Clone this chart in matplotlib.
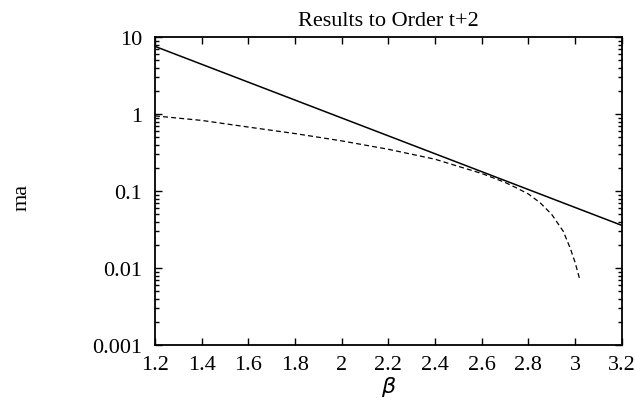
import numpy as np
import matplotlib
matplotlib.use("Agg")
import matplotlib.pyplot as plt
from matplotlib.ticker import FixedLocator, FuncFormatter, LogLocator, NullFormatter

# solid line (straight on the log scale)
beta_solid = [1.2, 3.2]
ma_solid = [7.6, 0.036]

# dashed curve
beta_dash = [1.2, 1.4, 1.6, 1.8, 2.0, 2.2, 2.4, 2.5, 2.6, 2.7, 2.75,
             2.8, 2.85, 2.9, 2.95, 2.98, 3.0, 3.02]
ma_dash = [0.95, 0.83, 0.68, 0.56, 0.45, 0.35, 0.26, 0.21, 0.17, 0.13, 0.11,
           0.092, 0.071, 0.050, 0.030, 0.018, 0.012, 0.0072]

xticks = [1.2, 1.4, 1.6, 1.8, 2.0, 2.2, 2.4, 2.6, 2.8, 3.0, 3.2]
yticks = [0.001, 0.01, 0.1, 1, 10]
ytick_labels = ["0.001", "0.01", "0.1", "1", "10"]

serif = "Liberation Serif"

fig = plt.figure(figsize=(6.35, 4.02), dpi=100)
ax = fig.add_axes([0.244, 0.139, 0.735, 0.766])

ax.plot(beta_solid, ma_solid, color="black", lw=1.1, solid_capstyle="butt")
ax.plot(beta_dash, ma_dash, color="black", lw=0.9, linestyle=(0, (4, 2.5)))

ax.set_yscale("log")
ax.set_xlim(1.2, 3.2)
ax.set_ylim(0.001, 10)

ax.xaxis.set_major_locator(FixedLocator(xticks))
ax.xaxis.set_major_formatter(FuncFormatter(lambda v, p: "%g" % v))
ax.yaxis.set_major_locator(FixedLocator(yticks))
ax.yaxis.set_major_formatter(FuncFormatter(lambda v, p: ytick_labels[p] if p is not None and p < len(ytick_labels) else "%g" % v))
ax.yaxis.set_minor_locator(LogLocator(base=10, subs=np.arange(2, 10), numticks=20))
ax.yaxis.set_minor_formatter(NullFormatter())

ax.tick_params(which="both", direction="in", top=True, right=True, width=1.0)
ax.tick_params(which="major", length=5, labelsize=16)
ax.tick_params(which="minor", length=3)
ax.tick_params(axis="x", pad=7)
ax.tick_params(axis="y", pad=9)
for lab in ax.get_xticklabels() + ax.get_yticklabels():
    lab.set_fontfamily(serif)

for s in ax.spines.values():
    s.set_linewidth(1.3)

ax.set_title("Results to Order t+2", fontfamily=serif, fontsize=16, pad=9)
ax.set_xlabel(r"$\beta$", fontsize=16, labelpad=0)
fig.text(0.035, 0.51, "ma", rotation=90, fontfamily=serif, fontsize=16,
         ha="center", va="center")

fig.savefig("out.png", dpi=100)
